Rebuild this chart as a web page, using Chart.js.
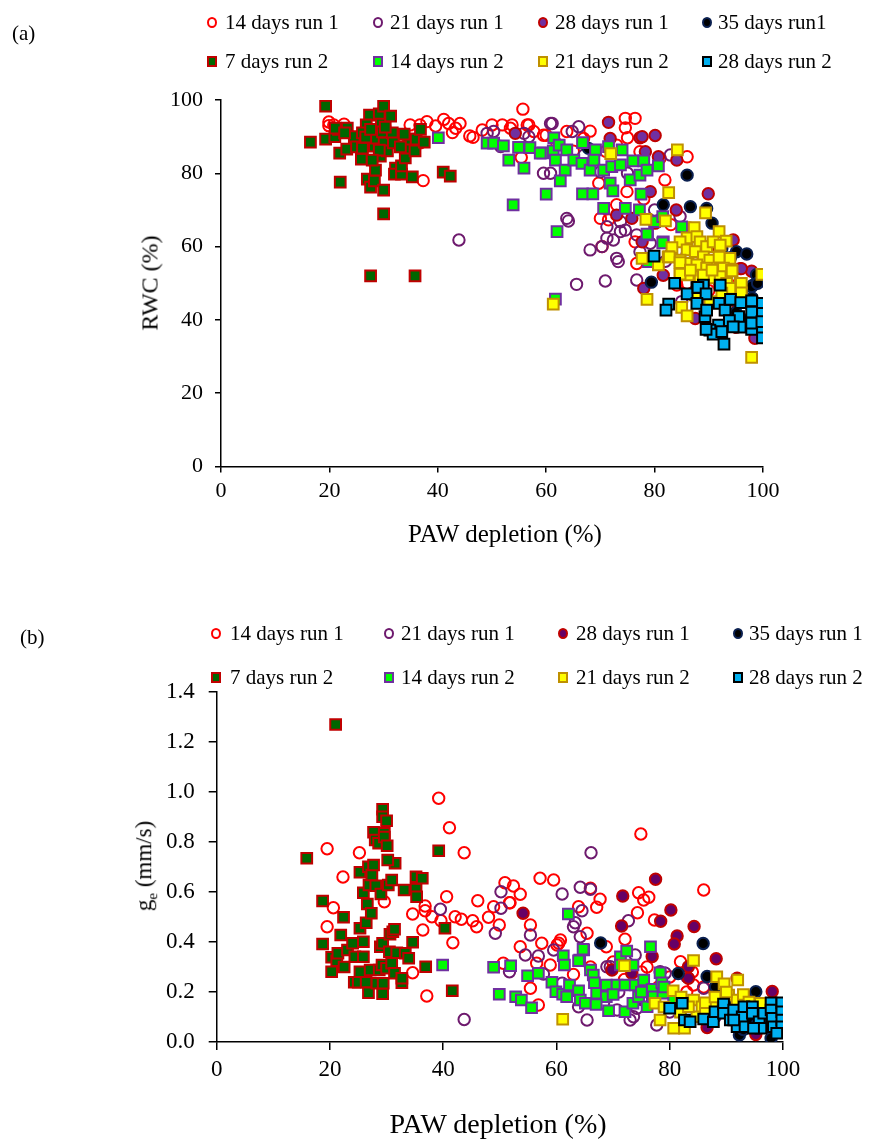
<!DOCTYPE html>
<html>
<head>
<meta charset="utf-8">
<script src="https://cdn.jsdelivr.net/npm/chart.js@4.4.1/dist/chart.umd.min.js"></script>
<style>
  body { margin: 0; background: #fff; }
  #page { position: relative; width: 879px; height: 1140px; font-family: "Liberation Serif", "Times New Roman", serif; color: #000; }
  canvas { position: absolute; left: 0; }
  .txt { position: absolute; white-space: nowrap; font-size: 21px; line-height: 22px; }
  .mk { position: absolute; box-sizing: border-box; width: 10px; height: 11px; border: 2px solid; }
  .rot { position: absolute; white-space: nowrap; transform: translate(-50%, -50%) rotate(-90deg); }
  .ttl { position: absolute; white-space: nowrap; transform: translate(-50%, -50%); }
</style>
</head>
<body>
<div id="page">
  <canvas id="chartA" width="879" height="560" style="top:0"></canvas>
  <canvas id="chartB" width="879" height="580" style="top:560px"></canvas>
  <div class="txt" style="left:12px;top:22px">(a)</div>
  <div class="txt" style="left:20px;top:626px">(b)</div>
  <div class="rot" style="left:150px;top:283px;font-size:24px">RWC (%)</div>
  <div class="ttl" style="left:505px;top:534px;font-size:25px">PAW depletion (%)</div>
  <div class="rot" style="left:146px;top:866px;font-size:23px">g<sub style="font-size:15px">e</sub> (mm/s)</div>
  <div class="ttl" style="left:498px;top:1124px;font-size:28px">PAW depletion (%)</div>
  <div id="legA"></div>
  <div id="legB"></div>
</div>
<script>
// ---- data: [PAW depletion %, value] ----
const namesA = ['14 days run 1', '21 days run 1', '28 days run 1', '35 days run1',
                '7 days run 2', '14 days run 2', '21 days run 2', '28 days run 2'];
const namesB = ['14 days run 1', '21 days run 1', '28 days run 1', '35 days run 1',
                '7 days run 2', '14 days run 2', '21 days run 2', '28 days run 2'];

const xTicks = [0, 20, 40, 60, 80, 100];
const yTicksA = [0, 20, 40, 60, 80, 100];
const yTicksB = [0, 0.2, 0.4, 0.6, 0.8, 1.0, 1.2, 1.4];

// panel (a) RWC
const rwc14r1 = [[19.9,94],[19.9,93],[20.8,93.2],[22.7,93.4],[21.9,92],[30.2,92.9],[34.9,93.2],[36.7,93.2],[38,94.1],[39.6,92.9],[41.1,94.7],[42,93.6],[43.3,92.3],[44.1,93.6],[42.7,91.1],[45.9,90.2],[46.5,89.8],[48.2,91.8],[50,93.2],[37.3,78],[36.8,88.3],[51.9,93.2],[53.4,92.3],[55.7,97.5],[56.5,93.2],[57.7,91.4],[55.4,84.3],[59.5,90.4],[60,90.4],[63.8,91.4],[66.9,89.5],[68.1,91.5],[73,87.7],[74.6,95],[76.4,95],[74.6,92.4],[75,89.7],[77.3,85.9],[81,84.1],[86,84.5],[81.9,78.2],[70,67.7],[71.5,67.3],[73,71.4],[76.4,61.3],[74.9,75],[69.7,77.3],[79.2,56.9],[70.3,60],[76.7,55.4],[84.1,49.5],[53.7,93.2],[56.8,93.2],[86,62],[88,57],[86,50],[90,48],[94,52],[97,45],[95,38],[92,55],[99,42],[83,66],[78,73],[62,88],[65,86],[71,86]];
const rwc21r1 = [[43.9,61.8],[49.1,90.9],[50.3,91.4],[51.6,87.3],[55.9,90.9],[56.8,90],[59.5,80],[60.8,80],[60.8,93.6],[61.1,93.6],[66,92.7],[64.8,91.4],[63.8,67.7],[64.1,67],[68.1,59.1],[70.3,60],[71.2,62.3],[72.4,61.8],[73.7,64.1],[74.6,64.5],[73,56.8],[73.3,55.9],[70.9,50.6],[65.6,49.7],[73.7,66.8],[76.7,63.2],[77.3,58.6],[79.2,60.9],[82.9,85],[84.7,68.2],[76.7,50.9],[71.2,65.4],[70,80.4],[67,85],[75,80],[80,70],[82,56],[86,58],[88,52],[90,45],[93,50],[96,47],[98,40],[85,45]];
const rwc28r1 = [[54.3,90.9],[71.5,93.9],[71.8,89.5],[77.3,89.7],[77.7,90],[80.1,90.3],[78.3,85.9],[80.7,84.5],[84.1,83.6],[89.9,74.4],[79.2,75],[73,68.6],[75.8,67.7],[80.1,66.4],[77.7,61.3],[94.5,61.8],[95.8,54],[97.9,53.3],[78,48.6],[81.6,52.2],[87.5,40.4],[98.5,35],[96,54],[84,70],[86.5,65],[90,60],[92,50],[95,45],[99,40],[83,58],[88,55]];
const rwc35r1 = [[67.8,86.8],[86,79.5],[81.6,71.4],[86.6,70.9],[89.6,70.4],[90.6,66.4],[92.4,59.5],[95.1,58.6],[79.4,50.3],[98.2,49.5],[97.9,49.1],[98.8,52.3],[93,45],[95,42],[97,40],[99,38],[100,44],[96,48],[98,46],[99,50],[92,58],[94,57],[97,58],[100,41]];
const rwc7r2 = [[16.5,88.5],[19.3,98.3],[19.3,89.3],[21,90],[22,77.6],[21.9,85.5],[23.2,86.6],[21.7,92],[23.3,92.3],[24.6,90],[25,87.2],[25.9,83.9],[26.1,86.9],[27.4,95.9],[26.8,93.2],[26.1,91],[27,78.4],[27.6,76.2],[27.6,52],[28.3,77.9],[28.3,87.4],[28.3,89.6],[28.5,80.9],[29.2,96.2],[30,98.3],[29.6,93.4],[29.4,84.7],[30,75.4],[30,68.9],[30.1,88.3],[29.8,91.3],[30.7,86.1],[31.3,95.6],[31.6,91],[31.8,88.3],[32.2,81.4],[32,79.8],[33.3,79.8],[33.3,82],[34,84.2],[34.4,86.9],[34.6,89.3],[33.8,90.7],[35.3,79],[35.8,52],[35.8,86.1],[36,89.3],[36.8,92],[37.5,88.5],[41,80.3],[42.3,79.2],[21.1,92.3],[22.8,91],[26.7,89.9],[27.6,92],[29.2,86.3],[30.3,92.6],[27.9,83.6],[33.1,87.2]];
const rwc14r2 = [[40.1,89.7],[49.1,88.2],[50.3,88.2],[52.1,87.5],[53.1,83.6],[54.9,87.1],[55.9,81.4],[53.9,71.4],[57,87],[59.4,85.6],[60,74.3],[61.4,89.7],[61.3,86.1],[62.4,87.7],[63.8,86.4],[61.7,83.6],[63.5,80.9],[62.6,77.9],[62,64.1],[65.1,83.6],[66.7,88.4],[66.6,82.7],[66.7,74.4],[68.6,74.4],[68.1,80.9],[69.1,86.4],[68.8,83.6],[70.6,80.9],[70.6,70.4],[71.5,87.3],[72.1,81.8],[71.8,77.3],[72.3,75.2],[73.7,82.3],[74,86.4],[74.6,70.4],[75.5,78.2],[76,83.4],[77.3,79.5],[77.5,74.3],[78,83.4],[77.2,70],[78.6,80.9],[78.7,63.2],[80,66.8],[80.7,82],[81.5,68.2],[81.6,61.3],[85,65.4],[58.9,85.5],[78.6,63.4],[81.5,61],[78.8,55.9],[61.7,45.7]];
const rwc21r2 = [[71.9,85.4],[84.2,86.4],[82.6,74.7],[89.4,69.2],[78.4,67.4],[82,67],[87.3,65.2],[91.9,64.1],[93.2,61.5],[86,62.4],[87.8,62.7],[88.4,61.3],[89.6,60],[90.8,61.3],[92.1,60.4],[84.7,61.3],[86,59.1],[87.5,58.6],[89,57.2],[90.2,56.3],[92.1,56.8],[93.9,56.8],[84.7,56.3],[86.2,55.4],[87.8,55],[89.6,54.1],[91.2,53.6],[92.7,54.1],[94.2,53.6],[84.7,53.2],[86.2,52.3],[88.4,51.8],[90.2,51.5],[92.1,51.8],[93.3,50],[95.8,50],[99.8,52.4],[77.7,56.8],[80.7,55],[83.2,59.7],[82.5,57.2],[78.6,45.6],[82.7,57.2],[84.7,55.6],[84.7,52.5],[86.6,53.6],[89,52.2],[90.6,53.6],[91.9,57.1],[94.3,53.4],[96,50],[96,47.4],[93.9,48.6],[85,43.4],[86,41.1],[97.9,29.8],[88.4,48.2],[90.2,45],[87.5,46.8],[92.4,47.3],[61.3,44.3]];
const rwc28r2 = [[79.9,57.4],[83.7,50],[87.8,48.8],[89,49.5],[92.1,49.5],[82.6,44.3],[82.1,42.7],[86,47.1],[88,48.9],[89.5,47.1],[87.8,44.5],[89.3,40.9],[89.6,42.7],[91.9,44.5],[93,42.7],[94,45.6],[95.9,44.7],[97.9,45.2],[99.9,44.5],[97.9,42.1],[99.9,41.8],[95.5,40.9],[93.8,39.8],[91.8,38.6],[90.2,37.2],[90.8,36.1],[89.5,37.4],[92.4,36.8],[92.8,33.4],[95.8,38],[97.9,37.4],[99.9,37.5],[99.9,35.1],[97.9,39.1],[99.8,39.5],[94.5,38.1]];

// panel (b) ge (mm/s)
const ge14r1 = [[19.5,0.773],[20.6,0.537],[19.5,0.461],[22.3,0.66],[25.2,0.757],[29.6,0.561],[34.6,0.277],[34.6,0.512],[36.4,0.448],[36.8,0.544],[36.8,0.525],[37.1,0.184],[38,0.501],[39.2,0.975],[39.6,0.485],[40.6,0.581],[41.1,0.857],[41.7,0.397],[42.1,0.501],[43.2,0.491],[43.7,0.757],[45.2,0.485],[45.9,0.461],[46.1,0.565],[48,0.499],[48.9,0.541],[49.9,0.468],[50.9,0.637],[52.4,0.624],[51.8,0.557],[53.6,0.591],[50.6,0.315],[53.6,0.381],[55.4,0.468],[55.4,0.215],[56.8,0.148],[57.1,0.655],[59.5,0.648],[57.4,0.395],[56.5,0.315],[58.9,0.308],[60.1,0.388],[74.9,0.832],[86,0.608],[66,0.615],[67.7,0.571],[67.1,0.539],[74.5,0.597],[76.3,0.579],[75.4,0.568],[74.3,0.517],[77.3,0.488],[72.1,0.411],[65.4,0.435],[63.9,0.541],[68.8,0.381],[81.9,0.321],[84.2,0.228],[60.7,0.408],[51.7,0.557],[60.4,0.395],[72,0.25],[75,0.28],[78,0.22],[80,0.26],[83,0.2],[86,0.22],[89,0.18],[92,0.15],[95,0.12],[84,0.28],[76,0.3],[70,0.32],[66,0.3],[63,0.27],[79,0.16]];
const ge21r1 = [[39.5,0.531],[43.7,0.09],[50.2,0.601],[50.2,0.535],[49.2,0.435],[55.4,0.428],[54.5,0.348],[56.8,0.344],[51.7,0.281],[59.5,0.368],[61,0.592],[57.7,0.272],[61,0.235],[66.1,0.757],[64.2,0.619],[66,0.611],[64.5,0.525],[63.3,0.477],[64.2,0.421],[72.7,0.485],[73.9,0.348],[68.9,0.301],[65.4,0.088],[63.9,0.141],[68.3,0.155],[70.7,0.128],[73.6,0.101],[74.2,0.135],[77.7,0.068],[79.2,0.275],[86,0.215],[63,0.461],[69.5,0.301],[73,0.088],[78.3,0.281],[83,0.261],[71,0.2],[75,0.17],[80,0.12],[88,0.1],[92,0.08]];
const ge28r1 = [[54.1,0.515],[77.5,0.651],[71.7,0.584],[71.5,0.464],[80.2,0.528],[78.4,0.483],[84.3,0.462],[81.3,0.424],[80.8,0.392],[88.2,0.333],[76.9,0.342],[98.1,0.202],[83.3,0.255],[73.3,0.275],[86.6,0.058],[95.2,0.03],[69.8,0.288],[91.9,0.255],[83.3,0.301],[90,0.15],[93,0.12],[96,0.1],[99,0.08],[88,0.2],[94,0.18]];
const ge35r1 = [[67.8,0.396],[85.9,0.394],[81.5,0.274],[86.6,0.262],[95.2,0.201],[92.3,0.028],[97.9,0.015],[88.1,0.221],[90,0.15],[92,0.12],[94,0.1],[96,0.08],[98,0.1],[99,0.06],[93,0.05],[97,0.13]];
const ge7r2 = [[21,1.27],[15.9,0.735],[18.7,0.564],[18.7,0.392],[20.3,0.339],[20.3,0.281],[21.2,0.325],[21.4,0.355],[21.9,0.428],[22.4,0.499],[22.5,0.3],[23.1,0.368],[24,0.395],[24.3,0.239],[24.4,0.341],[25,0.239],[25.3,0.281],[25.3,0.679],[25.3,0.455],[25.9,0.597],[25.9,0.341],[25.9,0.401],[26.4,0.239],[26.4,0.477],[26.6,0.552],[26.8,0.197],[26.8,0.701],[26.9,0.628],[27.1,0.288],[27.3,0.515],[27.4,0.668],[27.7,0.708],[27.7,0.839],[28,0.808],[28.1,0.625],[28.3,0.235],[28.6,0.795],[28.7,0.288],[28.9,0.381],[29,0.592],[29.2,0.308],[29.3,0.931],[29.3,0.901],[29.3,0.193],[29.3,0.395],[29.4,0.235],[29.6,0.835],[29.6,0.82],[30,0.885],[30,0.295],[30.1,0.785],[30.3,0.628],[30.5,0.361],[30.6,0.431],[30.9,0.315],[31.1,0.441],[31.4,0.451],[31.4,0.275],[31.5,0.715],[30.2,0.728],[30.9,0.648],[31.8,0.357],[32.7,0.237],[32.7,0.255],[33.1,0.608],[33.3,0.355],[33.9,0.335],[34.6,0.399],[35.2,0.661],[35.2,0.612],[35.3,0.581],[36.3,0.655],[36.9,0.301],[39.2,0.765],[40.3,0.455],[41.6,0.205]];
const ge14r2 = [[39.9,0.308],[48.9,0.299],[49.9,0.191],[51.9,0.305],[52.8,0.181],[53.8,0.168],[54.9,0.265],[55.6,0.137],[56.8,0.275],[59.2,0.239],[59.9,0.201],[61.2,0.345],[61.4,0.308],[61.1,0.191],[62.1,0.512],[64.1,0.328],[64.8,0.368],[62.3,0.228],[63.9,0.205],[61.8,0.181],[64.2,0.168],[65.1,0.155],[66,0.288],[66.5,0.268],[66.7,0.237],[67.1,0.195],[68.8,0.228],[68.8,0.181],[69.2,0.125],[70.7,0.228],[71.3,0.341],[71.3,0.308],[72.1,0.228],[72.1,0.121],[72.4,0.364],[73.5,0.308],[73.9,0.228],[73.5,0.155],[74.5,0.181],[75.4,0.248],[76,0.141],[76.6,0.381],[76.9,0.211],[77.1,0.181],[78.3,0.277],[78.6,0.237],[78.8,0.195],[80.7,0.168],[64.7,0.371],[63.9,0.325],[70,0.19],[67,0.15],[75,0.2],[79,0.22]];
const ge21r2 = [[72,0.305],[84.2,0.326],[61.1,0.091],[80.6,0.205],[77.4,0.155],[78.3,0.088],[80.7,0.055],[82.6,0.055],[88.3,0.261],[89.6,0.233],[92,0.248],[90.4,0.188],[91.9,0.168],[96,0.155],[81.9,0.119],[84.2,0.168],[85.7,0.141],[87.5,0.155],[84.8,0.101],[86.3,0.157],[83.3,0.141],[86.3,0.115],[88,0.18],[90,0.2],[93,0.19],[94,0.16],[82,0.18],[79,0.14]];
const ge28r2 = [[80,0.135],[82.2,0.155],[82.6,0.088],[83.6,0.081],[86,0.092],[87.7,0.081],[88,0.121],[89.5,0.152],[89.5,0.115],[90.7,0.088],[91.9,0.061],[91.3,0.128],[92.8,0.101],[93.1,0.141],[94.6,0.141],[94.6,0.115],[95.8,0.081],[96.1,0.055],[96.6,0.115],[97.9,0.157],[97.9,0.128],[98.1,0.095],[98.3,0.061],[99.8,0.157],[99.8,0.121],[99.8,0.088],[99.8,0.061],[93.3,0.061],[91.3,0.088],[94.8,0.055],[98.9,0.035]];

const seriesA = [rwc14r1, rwc21r1, rwc28r1, rwc35r1, rwc7r2, rwc14r2, rwc21r2, rwc28r2];
const seriesB = [ge14r1, ge21r1, ge28r1, ge35r1, ge7r2, ge14r2, ge21r2, ge28r2];

// ---- marker styles ----
const shapes = ['circle', 'circle', 'circle', 'circle', 'rect', 'rect', 'rect', 'rect'];
const lines  = ['#FF0000', '#6E1A6E', '#C00000', '#0B2050', '#C00000', '#7030A0', '#BF9000', '#000000'];
const fillsA = ['rgba(0,0,0,0)', 'rgba(0,0,0,0)', '#7030A0', '#000000', '#006600', '#00FF00', '#FFFF00', '#00B0F0'];
const fillsB = ['rgba(0,0,0,0)', 'rgba(0,0,0,0)', '#660066', '#000000', '#006600', '#00FF00', '#FFFF00', '#00B0F0'];

function makeChart(id, names, series, fills, yMin, yMax, yStep, fmt, pad, tick) {
  const font = { family: 'Liberation Serif', size: tick.font };
  const datasets = series.map((s, i) => ({
    label: names[i],
    data: s.map(p => ({ x: p[0], y: p[1] })),
    pointStyle: shapes[i],
    pointRadius: shapes[i] === 'rect' ? 7.6 : 5.7,
    borderWidth: 2,
    borderColor: lines[i],
    backgroundColor: fills[i],
    order: series.length - 1 - i
  }));
  return new Chart(document.getElementById(id), {
    type: 'scatter',
    data: { datasets },
    options: {
      responsive: false,
      animation: false,
      devicePixelRatio: 1,
      layout: { padding: pad },
      plugins: { legend: { display: false }, tooltip: { enabled: false } },
      scales: {
        x: {
          min: 0, max: 100,
          afterFit: s => { s.height = 40; },
          afterBuildTicks: s => { s.ticks = xTicks.map(v => ({ value: v })); },
          border: { color: '#000', width: 1.5 },
          grid: { drawOnChartArea: false, drawTicks: true, tickLength: tick.len, color: '#000', lineWidth: 1.5 },
          ticks: { font, color: '#000', padding: tick.xPad, maxRotation: 0 }
        },
        y: {
          min: yMin, max: yMax,
          afterFit: s => { s.width = 60; },
          afterBuildTicks: s => { s.ticks = yStep.map(v => ({ value: v })); },
          border: { color: '#000', width: 1.5 },
          grid: { drawOnChartArea: false, drawTicks: true, tickLength: tick.len, color: '#000', lineWidth: 1.5 },
          ticks: { font, color: '#000', padding: tick.yPad, callback: fmt }
        }
      }
    }
  });
}

makeChart('chartA', namesA, seriesA, fillsA, 0, 100, yTicksA, v => String(v),
  { left: 161, right: 116, top: 100, bottom: 53.5 }, { len: 6, xPad: 6, yPad: 12, font: 22 });
makeChart('chartB', namesB, seriesB, fillsB, 0, 1.4, yTicksB, v => v.toFixed(1),
  { left: 156.7, right: 96, top: 132, bottom: 58 }, { len: 8, xPad: 6, yPad: 14, font: 23 });

// ---- legends (HTML text) ----
function makeLegend(el, names, fills, cols, rows, textX) {
  names.forEach((n, i) => {
    const c = i % 4, r = Math.floor(i / 4);
    const mk = document.createElement('div');
    mk.className = 'mk';
    mk.style.left = (cols[c] - 5) + 'px';
    mk.style.top = (rows[r] - 5) + 'px';
    mk.style.borderColor = lines[i];
    mk.style.background = fills[i] === 'rgba(0,0,0,0)' ? '#fff' : fills[i];
    if (shapes[i] === 'circle') mk.style.borderRadius = '50%';
    el.appendChild(mk);
    const t = document.createElement('div');
    t.className = 'txt';
    t.style.left = textX[c] + 'px';
    t.style.top = (rows[r] - 11) + 'px';
    t.textContent = n;
    el.appendChild(t);
  });
}
makeLegend(document.getElementById('legA'), namesA, fillsA, [212, 378, 543, 707], [22, 61], [225, 390, 555, 718]);
makeLegend(document.getElementById('legB'), namesB, fillsB, [216, 389, 563, 738], [633, 677], [230, 401, 576, 749]);
</script>
</body>
</html>
